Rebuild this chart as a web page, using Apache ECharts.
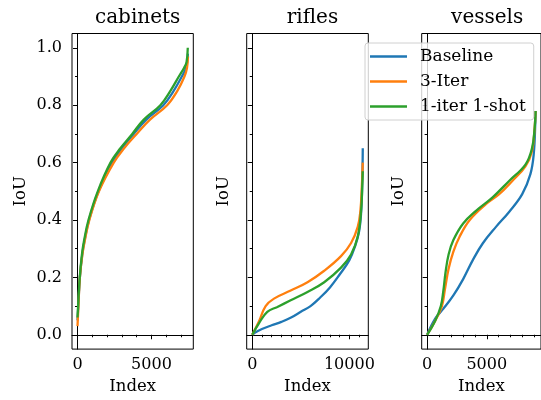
<!DOCTYPE html>
<html>
<head>
<meta charset="utf-8">
<script src="https://cdn.jsdelivr.net/npm/echarts@6/dist/echarts.min.js"></script>
<style>
html, body { margin: 0; padding: 0; background: #fff; }
#chart { width: 541px; height: 400px; }
</style>
</head>
<body>
<div id="chart"></div>
<script>
const panels = ['cabinets', 'rifles', 'vessels'];
const seriesNames = ['Baseline', '3-Iter', '1-iter 1-shot'];
const colors = ['#1f77b4', '#ff7f0e', '#2ca02c'];

// [Index, IoU] pairs
const cabinetsBaseline = [[0,0.05],[60,0.11],[160,0.2],[320,0.28],[480,0.33],[780,0.40],[1420,0.50],[2350,0.60],[3000,0.65],[3800,0.70],[4650,0.75],[5800,0.80],[6500,0.85],[7050,0.90],[7330,0.93],[7460,0.98]];
const cabinets3Iter = [[0,0.03],[60,0.1],[160,0.2],[330,0.28],[500,0.33],[800,0.40],[1450,0.50],[2450,0.60],[3150,0.65],[4000,0.70],[4900,0.75],[6060,0.80],[6750,0.85],[7230,0.90],[7400,0.93],[7470,0.97]];
const cabinets1Shot = [[0,0.06],[60,0.12],[150,0.2],[300,0.28],[450,0.33],[740,0.40],[1370,0.50],[2230,0.60],[2900,0.65],[3700,0.70],[4480,0.75],[5600,0.80],[6280,0.85],[6850,0.90],[7200,0.93],[7370,0.95],[7455,1.0]];

const riflesBaseline = [[0,0],[300,0.008],[1000,0.02],[2000,0.033],[3000,0.045],[4000,0.06],[5000,0.08],[6000,0.1],[7000,0.13],[8000,0.165],[9000,0.21],[10000,0.26],[10600,0.31],[11000,0.36],[11200,0.42],[11320,0.52],[11380,0.65]];
const rifles3Iter = [[0,0],[690,0.046],[1380,0.1],[2240,0.126],[3960,0.154],[5690,0.183],[7410,0.223],[9140,0.274],[10175,0.32],[10870,0.377],[11140,0.434],[11280,0.514],[11380,0.60]];
const rifles1Shot = [[0,0],[690,0.04],[1550,0.08],[2590,0.097],[3960,0.12],[5690,0.149],[7410,0.183],[9140,0.234],[10175,0.28],[10870,0.343],[11210,0.434],[11350,0.54],[11380,0.57]];

const vesselsBaseline = [[0,0],[690,0.057],[1370,0.091],[2200,0.137],[3020,0.194],[3850,0.262],[4670,0.319],[5770,0.376],[6870,0.428],[7970,0.49],[8650,0.559],[8930,0.627],[9070,0.74],[9090,0.78]];
const vessels3Iter = [[0,0],[690,0.05],[1240,0.10],[1500,0.16],[1800,0.23],[2200,0.29],[2700,0.34],[3570,0.40],[4950,0.456],[6040,0.49],[7140,0.536],[8240,0.587],[8790,0.64],[9010,0.72],[9090,0.78]];
const vessels1Shot = [[0,0],[690,0.05],[1150,0.10],[1350,0.15],[1550,0.22],[1800,0.28],[2200,0.33],[3020,0.388],[4120,0.433],[5490,0.479],[6870,0.536],[8240,0.593],[8790,0.65],[9010,0.72],[9090,0.78]];

const panelData = [
  [cabinetsBaseline, cabinets3Iter, cabinets1Shot],
  [riflesBaseline, rifles3Iter, rifles1Shot],
  [vesselsBaseline, vessels3Iter, vessels1Shot]
];

// ticks
const xMajor = [[0, 5000], [0, 10000], [0, 5000]];
const xMinor = [
  [1000, 2000, 3000, 4000, 6000, 7000],
  [1000, 2000, 3000, 4000, 5000, 6000, 7000, 8000, 9000, 11000],
  [1000, 2000, 3000, 4000, 6000, 7000, 8000, 9000]
];
const xRange = [[-373, 7828], [-569, 11949], [-455, 9545]];
const yMajor = [0, 0.2, 0.4, 0.6, 0.8, 1.0];
const yMinor = [0.1, 0.3, 0.5, 0.7, 0.9];
const yTickLabels = ['0.0', '0.2', '0.4', '0.6', '0.8', '1.0'];

const font = 'DejaVu Serif';
const ink = '#000';
const gridLeft = [72, 246.7, 421.7];
const gridWidth = [121.3, 121.6, 121];
const gridTop = 33.5;
const gridHeight = 321;

const grid = [], xAxis = [], yAxis = [], title = [], series = [];

panels.forEach((name, i) => {
  grid.push({
    left: gridLeft[i], top: gridTop, width: gridWidth[i], height: gridHeight,
    show: true, borderColor: ink, borderWidth: 1, backgroundColor: 'transparent'
  });
  title.push({
    text: name,
    left: gridLeft[i] + gridWidth[i] / 2,
    top: 3,
    textAlign: 'center',
    textStyle: { fontFamily: font, fontSize: 20, fontWeight: 'normal', color: ink }
  });
  // major x
  xAxis.push({
    gridIndex: i, type: 'value', min: xRange[i][0], max: xRange[i][1],
    name: 'Index', nameLocation: 'middle', nameGap: 27,
    nameTextStyle: { fontFamily: font, fontSize: 16.5, color: ink },
    axisLine: { show: true, lineStyle: { color: ink, width: 1 } },
    axisTick: { show: true, length: 4.5, customValues: xMajor[i], lineStyle: { color: ink, width: 1 } },
    axisLabel: {
      show: true, customValues: xMajor[i], margin: 8,
      fontFamily: font, fontSize: 16, color: ink,
      formatter: v => String(v)
    },
    splitLine: { show: false }
  });
  // minor x
  xAxis.push({
    gridIndex: i, type: 'value', position: 'bottom', min: xRange[i][0], max: xRange[i][1],
    axisLine: { show: false },
    axisTick: { show: true, length: 2.5, customValues: xMinor[i], lineStyle: { color: ink, width: 1 } },
    axisLabel: { show: false },
    splitLine: { show: false }
  });
  // major y
  yAxis.push({
    gridIndex: i, type: 'value', min: -0.05, max: 1.05,
    name: 'IoU', nameLocation: 'middle', nameGap: i === 0 ? 43 : 14,
    nameTextStyle: { fontFamily: font, fontSize: 16.5, color: ink },
    axisLine: { show: true, lineStyle: { color: ink, width: 1 } },
    axisTick: { show: true, length: 4.5, customValues: yMajor, lineStyle: { color: ink, width: 1 } },
    axisLabel: {
      show: i === 0, customValues: yMajor, margin: 10,
      fontFamily: font, fontSize: 16, color: ink,
      formatter: v => yTickLabels[yMajor.findIndex(t => Math.abs(t - v) < 1e-6)]
    },
    splitLine: { show: false }
  });
  // minor y
  yAxis.push({
    gridIndex: i, type: 'value', position: 'left', min: -0.05, max: 1.05,
    axisLine: { show: false },
    axisTick: { show: true, length: 2.5, customValues: yMinor, lineStyle: { color: ink, width: 1 } },
    axisLabel: { show: false },
    splitLine: { show: false }
  });

  panelData[i].forEach((data, k) => {
    series.push({
      name: seriesNames[k],
      type: 'line',
      xAxisIndex: i * 2,
      yAxisIndex: i * 2,
      data: data,
      smooth: 0.4,
      symbol: 'none',
      color: colors[k],
      lineStyle: { color: colors[k], width: 2.3 },
      z: 2 + k
    });
  });
});

const chart = echarts.init(document.getElementById('chart'), null, { renderer: 'canvas' });
chart.setOption({
  animation: false,
  backgroundColor: '#fff',
  title: title,
  grid: grid,
  xAxis: xAxis,
  yAxis: yAxis,
  legend: {
    data: seriesNames,
    orient: 'vertical',
    left: 365,
    top: 43,
    padding: [5, 8, 5, 5],
    icon: 'rect',
    itemWidth: 37,
    itemHeight: 2.5,
    itemGap: 8,
    backgroundColor: 'rgba(255,255,255,0.8)',
    borderColor: '#d0d0d0',
    borderWidth: 1,
    borderRadius: 3,
    textStyle: { fontFamily: font, fontSize: 17, color: ink, padding: [0, 0, 0, 8] },
    z: 10
  },
  series: series
});
</script>
</body>
</html>
